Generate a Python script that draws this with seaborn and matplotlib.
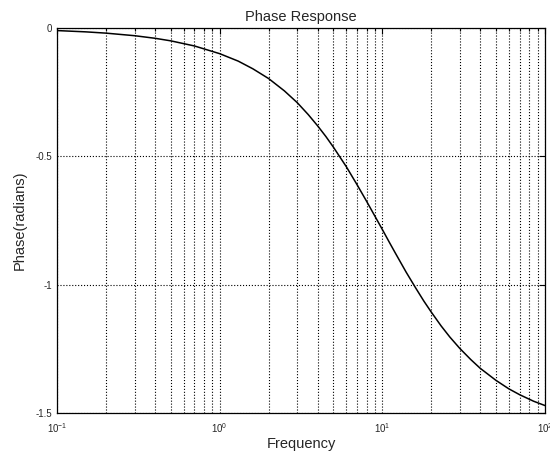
import pandas as pd
import matplotlib
matplotlib.use('Agg')
import matplotlib.pyplot as plt
import seaborn as sns
from matplotlib.ticker import LogLocator, NullFormatter

# values
freq = [0.1, 0.15, 0.2, 0.3, 0.4, 0.5, 0.7, 1, 1.3, 1.6, 2, 2.5, 3, 3.5,
        4, 4.5, 5, 6, 7, 8, 9, 10, 11, 12, 14, 16, 18, 20, 23, 26, 30,
        35, 40, 50, 60, 70, 85, 100]
phase = [-0.010, -0.015, -0.020, -0.030, -0.040, -0.050, -0.070, -0.100,
         -0.129, -0.159, -0.197, -0.245, -0.291, -0.337, -0.381, -0.423,
         -0.464, -0.540, -0.611, -0.675, -0.733, -0.785, -0.833, -0.876,
         -0.951, -1.012, -1.064, -1.107, -1.161, -1.204, -1.249, -1.292,
         -1.326, -1.373, -1.406, -1.429, -1.454, -1.471]
x_ticks = [0.1, 1, 10, 100]
x_labels = ['$10^{-1}$', '$10^{0}$', '$10^{1}$', '$10^{2}$']
y_ticks = [0, -0.5, -1, -1.5]
y_labels = ['0', '-0.5', '-1', '-1.5']

df = pd.DataFrame({'Frequency': freq, 'Phase': phase})

sns.set_style('white')
plt.rcParams['font.family'] = ['Liberation Sans', 'DejaVu Sans']
plt.rcParams['mathtext.fontset'] = 'custom'
plt.rcParams['mathtext.rm'] = 'Liberation Sans'
plt.rcParams['mathtext.it'] = 'Liberation Sans'

fig = plt.figure(figsize=(5.5, 4.55), dpi=100)
ax = fig.add_axes([57 / 550, 1 - 413 / 455, 488 / 550, 385 / 455])

sns.lineplot(data=df, x='Frequency', y='Phase', color='black', linewidth=1.1, ax=ax)

ax.set_xscale('log')
ax.set_xlim(0.1, 100)
ax.set_ylim(-1.5, 0)
ax.set_xticks(x_ticks)
ax.set_xticklabels(x_labels)
ax.xaxis.set_minor_locator(LogLocator(base=10, subs=range(2, 10)))
ax.xaxis.set_minor_formatter(NullFormatter())
ax.set_yticks(y_ticks)
ax.set_yticklabels(y_labels)

ax.grid(True, which='both', axis='x', color='black', linestyle=':', linewidth=0.8)
ax.grid(True, which='major', axis='y', color='black', linestyle=':', linewidth=0.8)

ax.tick_params(which='both', direction='in', top=True, right=True, labelsize=7,
               color='black', width=0.8)
ax.tick_params(which='major', length=4)
ax.tick_params(which='minor', length=2)
ax.tick_params(axis='x', pad=6)
for s in ax.spines.values():
    s.set_color('black')
    s.set_linewidth(0.9)

ax.set_title('Phase Response', fontsize=10.5, pad=5)
ax.set_xlabel('Frequency', fontsize=10.5, labelpad=1)
ax.set_ylabel('Phase(radians)', fontsize=10.5, labelpad=6)

fig.savefig('out.png', dpi=100)
